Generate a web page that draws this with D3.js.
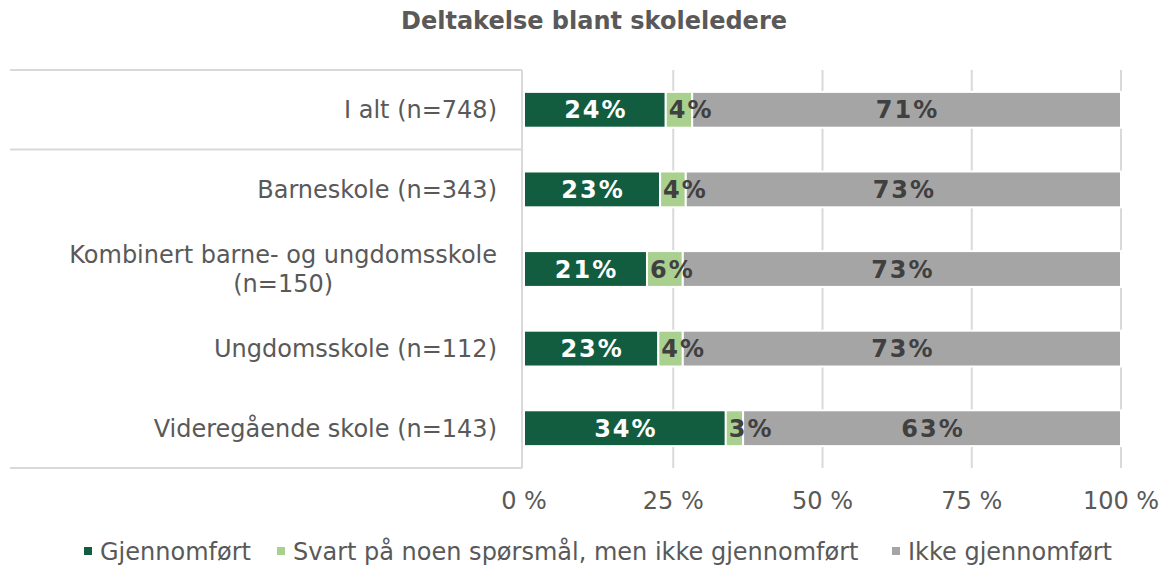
<!DOCTYPE html>
<html>
<head>
<meta charset="utf-8">
<script src="https://cdn.jsdelivr.net/npm/d3@7"></script>
<style>
  body { margin: 0; background: #fff; }
  svg { font-family: "DejaVu Sans", Verdana, sans-serif; }
</style>
</head>
<body>
<svg width="1166" height="566"></svg>
<script>
// chart data (shares in %, the chart is a 100 % stacked bar)
const categories = [
  ['I alt (n=748)'],
  ['Barneskole (n=343)'],
  ['Kombinert barne- og ungdomsskole', '(n=150)'],
  ['Ungdomsskole (n=112)'],
  ['Videregående skole (n=143)']
]
const seriesNames = ['Gjennomført', 'Svart på noen spørsmål, men ikke gjennomført', 'Ikke gjennomført']
const gjennomfort = [23.6, 22.8, 20.6, 22.5, 33.8]
const svart = [4.4, 4.3, 6.0, 4.1, 2.9]
const ikke = [71.4, 72.9, 73.4, 73.4, 63.3]
const tickValues = [0, 25, 50, 75, 100]

const colors = ['#125c40', '#a9d08e', '#a5a5a5']
const labelColors = ['#ffffff', '#404040', '#404040']

const keys = ['s0', 's1', 's2']
const rows = categories.map((c, i) => ({
  key: i,
  s0: gjennomfort[i],
  s1: svart[i],
  s2: ikke[i]
}))

const svg = d3.select('svg')
const plotTop = 70, plotBottom = 468
const x = d3.scaleLinear().domain([0, 1]).range([524, 1121])
const y = d3.scaleBand().domain(d3.range(categories.length)).range([plotTop, plotBottom]).paddingInner(0.55).paddingOuter(0.275)

// title
svg.append('text')
  .attr('x', 594).attr('y', 29)
  .attr('text-anchor', 'middle')
  .attr('font-size', 24).attr('font-weight', 'bold')
  .attr('fill', '#595959')
  .text('Deltakelse blant skoleledere')

// gridlines
svg.append('g').selectAll('line')
  .data(tickValues.slice(1))
  .join('line')
    .attr('x1', d => x(d / 100)).attr('x2', d => x(d / 100))
    .attr('y1', plotTop).attr('y2', plotBottom)
    .attr('stroke', '#d9d9d9').attr('stroke-width', 2)

// label table lines on the left
const sep = (y(0) + y.bandwidth() + y(1)) / 2
const grid = svg.append('g').attr('stroke', '#d9d9d9').attr('stroke-width', 2)
grid.append('line').attr('x1', 10).attr('x2', 522).attr('y1', plotTop).attr('y2', plotTop)
grid.append('line').attr('x1', 10).attr('x2', 522).attr('y1', sep).attr('y2', sep)
grid.append('line').attr('x1', 10).attr('x2', 522).attr('y1', plotBottom).attr('y2', plotBottom)
grid.append('line').attr('x1', 522).attr('x2', 522).attr('y1', plotTop).attr('y2', plotBottom)

// stacked bars
const stack = d3.stack().keys(keys).offset(d3.stackOffsetExpand)
const layers = stack(rows)

const layerG = svg.append('g').selectAll('g')
  .data(layers)
  .join('g')
    .attr('fill', (d, i) => colors[i])

layerG.selectAll('rect')
  .data(d => d)
  .join('rect')
    .attr('x', d => x(d[0]))
    .attr('width', d => x(d[1]) - x(d[0]))
    .attr('y', (d, i) => y(i))
    .attr('height', y.bandwidth())
    .attr('stroke', '#fff').attr('stroke-width', 2)

// data labels, the ones that don't fit start at the segment's left edge
layers.forEach((layer, li) => {
  svg.append('g').selectAll('text')
    .data(layer)
    .join('text')
      .attr('y', (d, i) => y(i) + y.bandwidth() / 2)
      .attr('dy', '0.36em')
      .attr('font-size', 24).attr('font-weight', 'bold')
      .attr('letter-spacing', 2)
      .attr('fill', labelColors[li])
      .text(d => Math.round(d.data[keys[li]]) + '%')
      .each(function (d) {
        const w = this.getComputedTextLength()
        const segW = x(d[1]) - x(d[0])
        if (w > segW) {
          d3.select(this).attr('text-anchor', 'start').attr('x', x(d[0]) + 3)
        } else {
          d3.select(this).attr('text-anchor', 'middle').attr('x', (x(d[0]) + x(d[1])) / 2 + 1)
        }
      })
})

// category labels
categories.forEach((lines, i) => {
  const cy = y(i) + y.bandwidth() / 2
  const t = svg.append('text')
    .attr('font-size', 24).attr('fill', '#595959')
    .attr('text-anchor', 'middle')
  lines.forEach((l, j) => {
    t.append('tspan').attr('y', cy + (j - (lines.length - 1) / 2) * 29).attr('dy', '0.36em').text(l)
  })
  let w = 0
  t.selectAll('tspan').each(function () { w = Math.max(w, this.getComputedTextLength()) })
  t.selectAll('tspan').attr('x', 497 - w / 2)
})

// x axis labels
svg.append('g').selectAll('text')
  .data(tickValues)
  .join('text')
    .attr('x', d => x(d / 100))
    .attr('y', 509)
    .attr('text-anchor', 'middle')
    .attr('font-size', 24).attr('fill', '#595959')
    .text(d => d + ' %')

// legend
const legendX = [84, 277, 892]
const legend = svg.append('g').selectAll('g')
  .data(seriesNames)
  .join('g')
    .attr('transform', (d, i) => `translate(${legendX[i]},551)`)
legend.append('rect')
  .attr('x', 0).attr('y', -4).attr('width', 8).attr('height', 8)
  .attr('fill', (d, i) => colors[i])
legend.append('text')
  .attr('x', 16).attr('dy', '0.36em')
  .attr('font-size', 24).attr('fill', '#595959')
  .text(d => d)
</script>
</body>
</html>
